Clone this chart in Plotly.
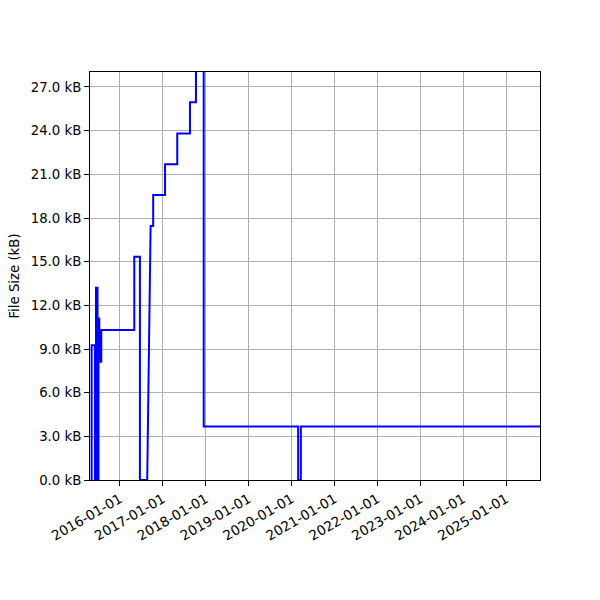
import plotly.graph_objects as go

# Change events: date of change, file size (kB) after the change
event_dates = ["2015-05-05", "2015-05-05", "2015-06-02", "2015-06-11", "2015-06-24",
               "2015-07-02", "2015-07-09", "2015-07-26", "2016-05-02", "2016-06-19",
               "2016-08-20", "2016-09-18", "2016-10-10", "2017-01-19", "2017-05-03",
               "2017-08-19", "2017-10-09", "2017-12-14", "2020-02-26", "2020-03-20",
               "2025-10-16"]
event_sizes = [0.0, 9.25, 0.0, 13.2, 0.0,
               11.1, 8.13, 10.3, 15.34, 0.0,
               0.0, 17.45, 19.58, 21.7, 23.8,
               25.95, 30.0, 3.68, 0.0, 3.68,
               3.68]
# events reached by a ramp (sampled) rather than an instant step
ramp_events = ["2016-09-18"]

tick_dates = ["2016-01-01", "2017-01-01", "2018-01-01", "2019-01-01", "2020-01-01",
              "2021-01-01", "2022-01-01", "2023-01-01", "2024-01-01", "2025-01-01"]
y_ticks = [0, 3, 6, 9, 12, 15, 18, 21, 24, 27]
y_tick_labels = [f"{v:.1f} kB" for v in y_ticks]

# expand events into a step series
xs, ys = [], []
for i, (d, s) in enumerate(zip(event_dates, event_sizes)):
    if i > 0 and d not in ramp_events:
        xs.append(d)
        ys.append(event_sizes[i - 1])
    xs.append(d)
    ys.append(s)

fig = go.Figure()
fig.add_trace(go.Scatter(x=xs, y=ys, mode="lines", line=dict(color="#0000ff", width=2),
                         showlegend=False, hoverinfo="skip"))

axis_common = dict(showline=True, linecolor="black", linewidth=1, mirror=True,
                   showgrid=True, gridcolor="#b0b0b0", gridwidth=1, automargin=False,
                   ticks="outside", ticklen=5, tickcolor="black", zeroline=False)

fig.update_layout(
    width=600, height=600,
    margin=dict(l=90, r=60, t=72, b=120),
    plot_bgcolor="white", paper_bgcolor="white",
    xaxis=dict(range=["2015-04-21", "2025-10-16"], tickvals=tick_dates,
               ticktext=tick_dates, tickangle=-30,
               tickfont=dict(family="DejaVu Sans", size=13.6, color="black"), **axis_common),
    yaxis=dict(range=[0, 28.03], tickvals=y_ticks, ticktext=y_tick_labels,
               tickfont=dict(family="DejaVu Sans", size=13.3, color="black"),
               title=dict(text="File Size (kB)", font=dict(family="DejaVu Sans", size=13.3, color="black"),
                          standoff=8),
               **axis_common),
)

fig.write_html("out.html", config={"displayModeBar": False},
               post_script="document.body.style.margin='0';document.body.style.padding='0';")
